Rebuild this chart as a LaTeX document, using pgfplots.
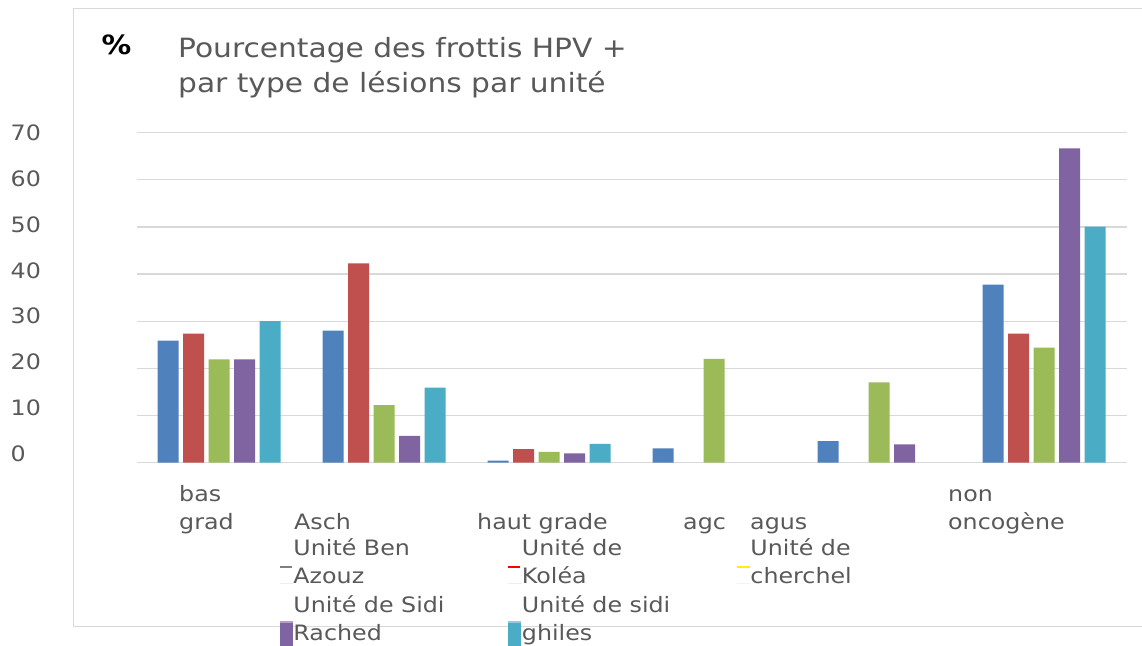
\documentclass[border=0pt]{standalone}
\usepackage{pgfplots}
\pgfplotsset{compat=1.18}
\usepackage{fontspec}
\setmainfont{DejaVu Sans}[FakeStretch=1.12]
\definecolor{cBlue}{HTML}{4F81BD}
\definecolor{cRed}{HTML}{C0504D}
\definecolor{cGreen}{HTML}{9BBB59}
\definecolor{cPurple}{HTML}{8064A2}
\definecolor{cCyan}{HTML}{4BACC6}
\definecolor{txt}{HTML}{595959}
\definecolor{gridc}{HTML}{D9D9D9}
\newcommand{\lblfont}{\fontsize{21.2}{27.8}\selectfont}
\newcommand{\ttlfont}{\fontsize{26.5}{35.4}\selectfont}
\begin{document}
\begin{tikzpicture}
\useasboundingbox (0pt,0pt) rectangle (1142pt,645pt);
\clip (0pt,0pt) rectangle (1142pt,645pt);
\fill[white] (0pt,0pt) rectangle (1142pt,645pt);
\draw[gridc, line width=1pt] (73.5pt,18.5pt) rectangle (1160pt,636.5pt);
% title
\node[anchor=base west, inner sep=0pt, font=\ttlfont\bfseries] at (101.5pt,590pt) {\%};
\node[anchor=base west, inner sep=0pt, text=txt, font=\ttlfont] at (178pt,587.7pt) {Pourcentage des frottis HPV +};
\node[anchor=base west, inner sep=0pt, text=txt, font=\ttlfont] at (178pt,552.3pt) {par type de lésions par unité};
\begin{axis}[
  at={(136.5pt,182.3pt)}, anchor=south west,
  scale only axis, width=990pt, height=330pt,
  xmin=-0.5, xmax=5.5, ymin=0, ymax=70,
  ybar=4.5pt, bar width=21pt,
  axis lines=left, axis line style={draw=none},
  major tick length=0pt,
  font=\lblfont,
  /pgf/number format/assume math mode=true,
  ytick={0,10,...,70},
  ymajorgrids, grid style={gridc, line width=1.3pt},
  yticklabel style={anchor=west, inner sep=0pt, xshift=-126pt, yshift=9.2pt-1.34pt*\ticknum, text=txt},
  xtick={-0.2424,0.4545,1.5636,2.8121,3.2182,4.4182},
  xticklabels={{\parbox[b]{3cm}{bas\\grad}},Asch,haut grade,agc,agus,{\parbox[b]{4cm}{non\\oncogène}}},
  xticklabel style={anchor=base west, inner sep=0pt, yshift=-66.8pt, text=txt},
  legend columns=3,
  legend style={at={(0.14495,-0.2221)}, anchor=north west, draw=none, fill=none,
    inner sep=0pt, outer sep=0pt, column sep=0pt, row sep=8.1pt,
    cells={anchor=base west},
    nodes={inner sep=0pt, text=txt, anchor=base west}, font=\lblfont},
]
\addplot[fill=cBlue, draw=none, legend image code/.code={
    \path (0pt,0pt) -- (13.5pt,0pt);
    \fill[gray] (0pt,15.3pt) rectangle (12pt,17.3pt);}]
  coordinates {(0,25.9)(1,28.0)(2,0.45)(3,3.05)(4,4.6)(5,37.8)};
\addlegendentry{\parbox[b]{215pt}{\strut Unité Ben\\Azouz\strut}}
\addplot[fill=cRed, draw=none, legend image code/.code={
    \path (0pt,0pt) -- (13.5pt,0pt);
    \fill[red] (0pt,15.3pt) rectangle (12pt,17.3pt);}]
  coordinates {(0,27.4)(1,42.3)(2,2.9)(5,27.4)};
\addlegendentry{\parbox[b]{215pt}{\strut Unité de\\Koléa\strut}}
\addplot[fill=cGreen, draw=none, legend image code/.code={
    \path (0pt,0pt) -- (13.5pt,0pt);
    \fill[yellow] (0pt,15.3pt) rectangle (13pt,17.3pt);}]
  coordinates {(0,21.9)(1,12.2)(2,2.3)(3,22.0)(4,17.05)(5,24.4)};
\addlegendentry{\parbox[b]{215pt}{\strut Unité de\\cherchel\strut}}
\addplot[fill=cPurple, draw=none, legend image code/.code={
    \path (0pt,0pt) -- (13.5pt,0pt);
    \fill[cPurple] (0pt,-6pt) rectangle (13pt,19pt);
    \fill[cPurple!60!white] (0pt,17.3pt) rectangle (13pt,19pt);}]
  coordinates {(0,21.9)(1,5.7)(2,2.0)(4,3.9)(5,66.7)};
\addlegendentry{\parbox[b]{215pt}{\strut Unité de Sidi\\Rached\strut}}
\addplot[fill=cCyan, draw=none, legend image code/.code={
    \path (0pt,0pt) -- (13.5pt,0pt);
    \fill[cCyan] (0pt,-6pt) rectangle (13pt,19pt);
    \fill[cCyan!60!white] (0pt,17.3pt) rectangle (13pt,19pt);}]
  coordinates {(0,30.05)(1,15.9)(2,4.0)(5,50.1)};
\addlegendentry{\parbox[b]{215pt}{\strut Unité de sidi\\ghiles\strut}}
\end{axis}
\end{tikzpicture}
\end{document}
